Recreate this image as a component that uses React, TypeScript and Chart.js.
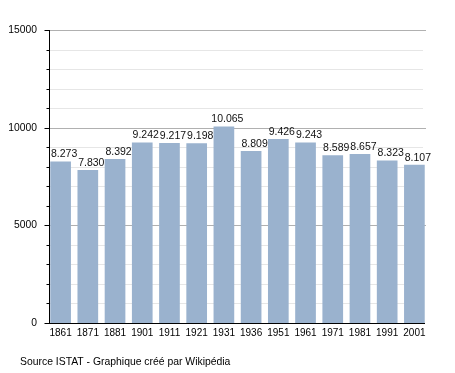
import React, { useEffect, useRef } from "react";
import { Chart, registerables } from "chart.js";

Chart.register(...registerables);

const years = ["1861", "1871", "1881", "1901", "1911", "1921", "1931", "1936", "1951", "1961", "1971", "1981", "1991", "2001"];
const population = [8273, 7830, 8392, 9242, 9217, 9198, 10065, 8809, 9426, 9243, 8589, 8657, 8323, 8107];
const yMax = 15000;
const yStep = 1000;
const yMajorStep = 5000;
const footerText = "Source ISTAT - Graphique créé par Wikipédia";

const FONT = "'Liberation Sans', Arial, Helvetica, sans-serif";
const BAR_COLOR = "rgb(154,178,206)";

const fmt = (v: number) => String(v).replace(/\B(?=(\d{3})+(?!\d))/g, ".");

const axesPlugin = {
  id: "customAxes",
  beforeDatasetsDraw(chart: any) {
    const { ctx, scales } = chart;
    const y = scales.y;
    const meta = chart.getDatasetMeta(0);
    const first = meta.data[0];
    const last = meta.data[meta.data.length - 1];
    const left = Math.round(first.x - first.width / 2);
    const right = Math.round(last.x + last.width / 2);
    ctx.save();
    ctx.lineWidth = 1;
    y.ticks.forEach((t: any) => {
      if (t.value === 0) return;
      const major = t.value % yMajorStep === 0;
      const py = Math.round(y.getPixelForValue(t.value)) + 0.5;
      ctx.strokeStyle = major ? "#b0b0b0" : "#e6e6e6";
      ctx.beginPath();
      ctx.moveTo(left, py);
      ctx.lineTo(major ? right + 1 : right - 2, py);
      ctx.stroke();
    });
    ctx.restore();
  },
  afterDatasetsDraw(chart: any) {
    const { ctx, scales, chartArea } = chart;
    const y = scales.y;
    const meta = chart.getDatasetMeta(0);
    const first = meta.data[0];
    const last = meta.data[meta.data.length - 1];
    const left = Math.round(first.x - first.width / 2) - 0.5;
    const right = Math.round(last.x + last.width / 2);
    const bottom = Math.round(y.getPixelForValue(0)) + 0.5;
    ctx.save();
    ctx.strokeStyle = "#000";
    ctx.lineWidth = 1;
    ctx.beginPath();
    ctx.moveTo(left, Math.round(chartArea.top));
    ctx.lineTo(left, bottom);
    ctx.moveTo(left - 5, bottom);
    ctx.lineTo(right, bottom);
    y.ticks.forEach((t: any) => {
      if (t.value === 0) return;
      const major = t.value % yMajorStep === 0;
      const py = Math.round(y.getPixelForValue(t.value)) + 0.5;
      ctx.moveTo(left - (major ? 5 : 3), py);
      ctx.lineTo(left, py);
    });
    ctx.stroke();

    // data labels
    ctx.fillStyle = "#111";
    ctx.font = `10.5px ${FONT}`;
    ctx.textAlign = "center";
    ctx.textBaseline = "alphabetic";
    meta.data.forEach((bar: any, i: number) => {
      ctx.fillText(fmt(population[i]), bar.x + 3.5, bar.y - 4);
    });

    // footer
    ctx.font = `10.4px ${FONT}`;
    ctx.textAlign = "left";
    ctx.fillStyle = "#000";
    ctx.fillText(footerText, 20, 365);
    ctx.restore();
  },
};

export default function App() {
  const ref = useRef<HTMLCanvasElement>(null);
  useEffect(() => {
    if (!ref.current) return;
    const chart = new Chart(ref.current, {
      type: "bar",
      data: {
        labels: years,
        datasets: [
          {
            data: population,
            backgroundColor: BAR_COLOR,
            borderWidth: 0,
            barPercentage: 0.76,
            categoryPercentage: 1,
          },
        ],
      },
      options: {
        responsive: false,
        animation: false,
        devicePixelRatio: 1,
        layout: { padding: { top: 30, right: 27, bottom: 0, left: 0 } },
        plugins: { legend: { display: false }, tooltip: { enabled: false }, title: { display: false } },
        scales: {
          x: {
            grid: { display: false, drawTicks: false },
            border: { display: false },
            ticks: { color: "#000", font: { family: FONT, size: 10 }, padding: 4, maxRotation: 0, autoSkip: false },
            afterFit: (s: any) => {
              s.height = 50;
            },
          },
          y: {
            min: 0,
            max: yMax,
            grid: { display: false, drawTicks: false },
            border: { display: false },
            ticks: {
              stepSize: yStep,
              autoSkip: false,
              color: "#000",
              padding: 10,
              font: { family: FONT, size: 10.3 },
              callback: (v: any) => (Number(v) % yMajorStep === 0 ? String(v) : ""),
            },
            afterFit: (s: any) => {
              s.width = 47;
            },
          },
        },
      },
      plugins: [axesPlugin],
    });
    return () => chart.destroy();
  }, []);
  return (
    <div style={{ position: "absolute", left: 0, top: 0, width: 455, height: 373, background: "#fff" }}>
      <canvas ref={ref} width={455} height={373} style={{ display: "block", width: 455, height: 373 }} />
    </div>
  );
}
